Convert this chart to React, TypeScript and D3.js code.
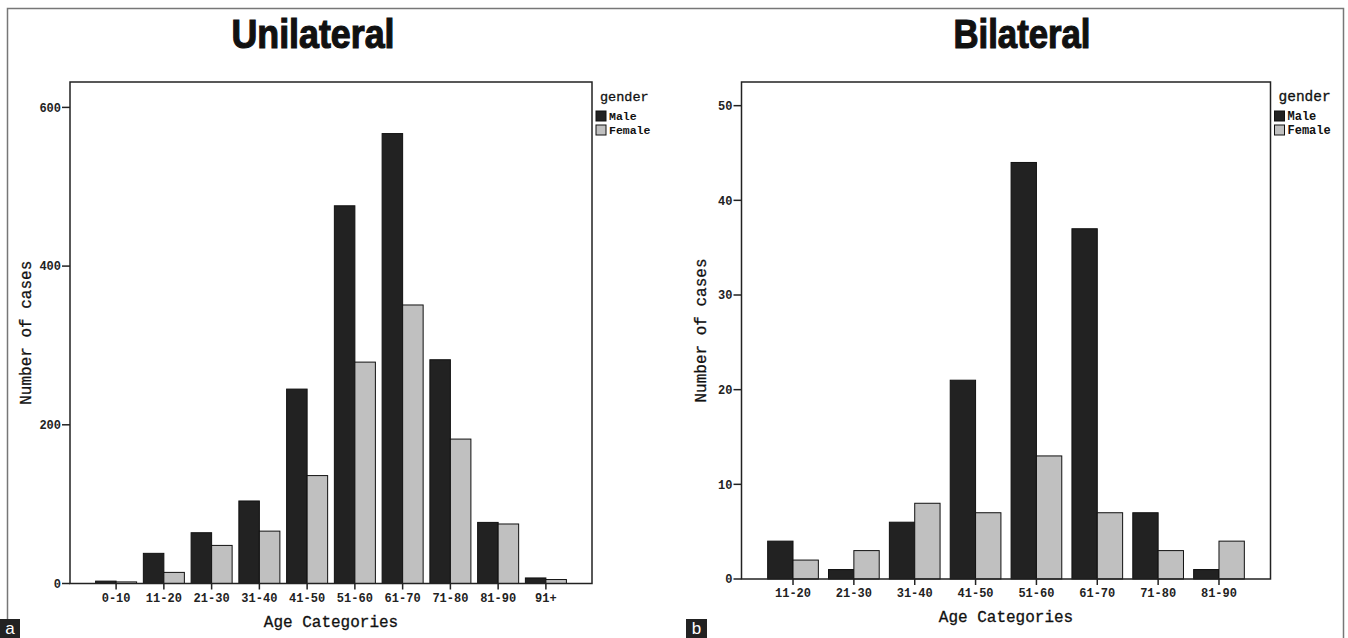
import React from 'react';
import * as d3 from 'd3';

// values
const genders = ['Male', 'Female'];
const uniAges = ['0-10', '11-20', '21-30', '31-40', '41-50', '51-60', '61-70', '71-80', '81-90', '91+'];
const uniMale = [3, 38, 64, 104, 245, 476, 567, 282, 77, 7];
const uniFemale = [2, 14, 48, 66, 136, 279, 351, 182, 75, 5];
const uniTicks = [0, 200, 400, 600];

const biAges = ['11-20', '21-30', '31-40', '41-50', '51-60', '61-70', '71-80', '81-90'];
const biMale = [4, 1, 6, 21, 44, 37, 7, 1];
const biFemale = [2, 3, 8, 7, 13, 7, 3, 4];
const biTicks = [0, 10, 20, 30, 40, 50];

const colors = { Male: '#222222', Female: '#c0c0c0' };
const mono = '"Liberation Mono", "DejaVu Sans Mono", monospace';

type PanelProps = {
  title: string;
  titleX: number;
  titleLen: number;
  ages: string[];
  male: number[];
  female: number[];
  ticks: number[];
  yMax: number;
  left: number;
  right: number;
  top: number;
  bottom: number;
  padInner: number;
  padOuter: number;
  legendFont: number;
  legendLabelFont: number;
  yLabelX: number;
};

const Panel = (p: PanelProps) => {
  const x = d3.scaleBand<string>().domain(p.ages).range([p.left, p.right])
    .paddingInner(p.padInner).paddingOuter(p.padOuter);
  const xSub = d3.scaleBand<string>().domain(genders).range([0, x.bandwidth()]);
  const y = d3.scaleLinear().domain([0, p.yMax]).range([p.bottom, p.top]);
  const rows = p.ages.map((a, i) => ({ age: a, Male: p.male[i], Female: p.female[i] }));
  const midX = (p.left + p.right) / 2;
  const midY = (p.top + p.bottom) / 2;
  const lx = p.right + 4;

  return (
    <g>
      <text x={p.titleX} y={48} textAnchor="middle" fontFamily='"Liberation Sans", Arial, sans-serif'
        fontWeight="bold" fontSize={40} textLength={p.titleLen} lengthAdjust="spacingAndGlyphs"
        fill="#111" stroke="#111" strokeWidth={1.2}>
        {p.title}
      </text>

      {rows.map((r) => genders.map((g) => {
        const v = (r as any)[g] as number;
        return (
          <rect key={r.age + g} x={(x(r.age) as number) + (xSub(g) as number)} y={y(v)}
            width={xSub.bandwidth()} height={p.bottom - y(v)}
            fill={(colors as any)[g]} stroke="#111" strokeWidth={1} />
        );
      }))}

      <rect x={p.left} y={p.top} width={p.right - p.left} height={p.bottom - p.top}
        fill="none" stroke="#222" strokeWidth={1.5} />

      {p.ticks.map((t) => (
        <g key={t}>
          <line x1={p.left - 8} x2={p.left} y1={y(t)} y2={y(t)} stroke="#222" strokeWidth={1.5} />
          <text x={p.left - 9} y={y(t)} dy="0.35em" textAnchor="end" fontFamily={mono}
            fontWeight="bold" fontSize={12} fill="#222">{t}</text>
        </g>
      ))}

      {p.ages.map((a) => {
        const cx = (x(a) as number) + x.bandwidth() / 2;
        return (
          <g key={a}>
            <line x1={cx} x2={cx} y1={p.bottom} y2={p.bottom + 6} stroke="#222" strokeWidth={1.5} />
            <text x={cx} y={p.bottom + 18} textAnchor="middle" fontFamily={mono}
              fontWeight="bold" fontSize={12} fill="#222">{a}</text>
          </g>
        );
      })}

      <text x={midX} y={p.bottom + 43} textAnchor="middle" fontFamily={mono} fontSize={16}
        fill="#111" stroke="#111" strokeWidth={0.3}>
        Age Categories
      </text>
      <text transform={`translate(${p.yLabelX},${midY}) rotate(-90)`} textAnchor="middle"
        fontFamily={mono} fontSize={16} fill="#111" stroke="#111" strokeWidth={0.3}>
        Number of cases
      </text>

      <text x={lx + 4} y={p.top + 19} fontFamily={mono} fontSize={p.legendFont}
        fill="#111" stroke="#111" strokeWidth={0.3}>gender</text>
      {genders.map((g, i) => (
        <g key={g}>
          <rect x={lx} y={p.top + 29 + i * 14} width={10} height={10}
            fill={(colors as any)[g]} stroke="#111" strokeWidth={1} />
          <text x={lx + 13} y={p.top + 38 + i * 14} fontFamily={mono} fontWeight="bold"
            fontSize={p.legendLabelFont} fill="#111">{g}</text>
        </g>
      ))}
    </g>
  );
};

const App = () => {
  return (
    <svg width={1348} height={638} style={{ position: 'absolute', left: 0, top: 0, background: '#fff' }}>
      <rect x={7.5} y={8.5} width={1336} height={640} fill="none" stroke="#777" strokeWidth={1.5} />

      <Panel title="Unilateral" titleX={313} titleLen={163} ages={uniAges} male={uniMale} female={uniFemale}
        ticks={uniTicks} yMax={632} left={70} right={592} top={82} bottom={583.5}
        padInner={0.141} padOuter={0.536} legendFont={13.5} legendLabelFont={11.5} yLabelX={31} />
      <Panel title="Bilateral" titleX={1022} titleLen={137} ages={biAges} male={biMale} female={biFemale}
        ticks={biTicks} yMax={52.5} left={741.5} right={1270.5} top={82} bottom={579}
        padInner={0.167} padOuter={0.43} legendFont={14.5} legendLabelFont={12} yLabelX={706} />

      <rect x={0} y={619} width={20} height={19} fill="#222" />
      <text x={10} y={634} textAnchor="middle" fontFamily='"Liberation Sans", Arial, sans-serif'
        fontSize={17} fill="#fff">a</text>
      <rect x={686} y={619} width={21} height={19} fill="#222" />
      <text x={696.5} y={634} textAnchor="middle" fontFamily='"Liberation Sans", Arial, sans-serif'
        fontSize={17} fill="#fff">b</text>
    </svg>
  );
};

export default App;
